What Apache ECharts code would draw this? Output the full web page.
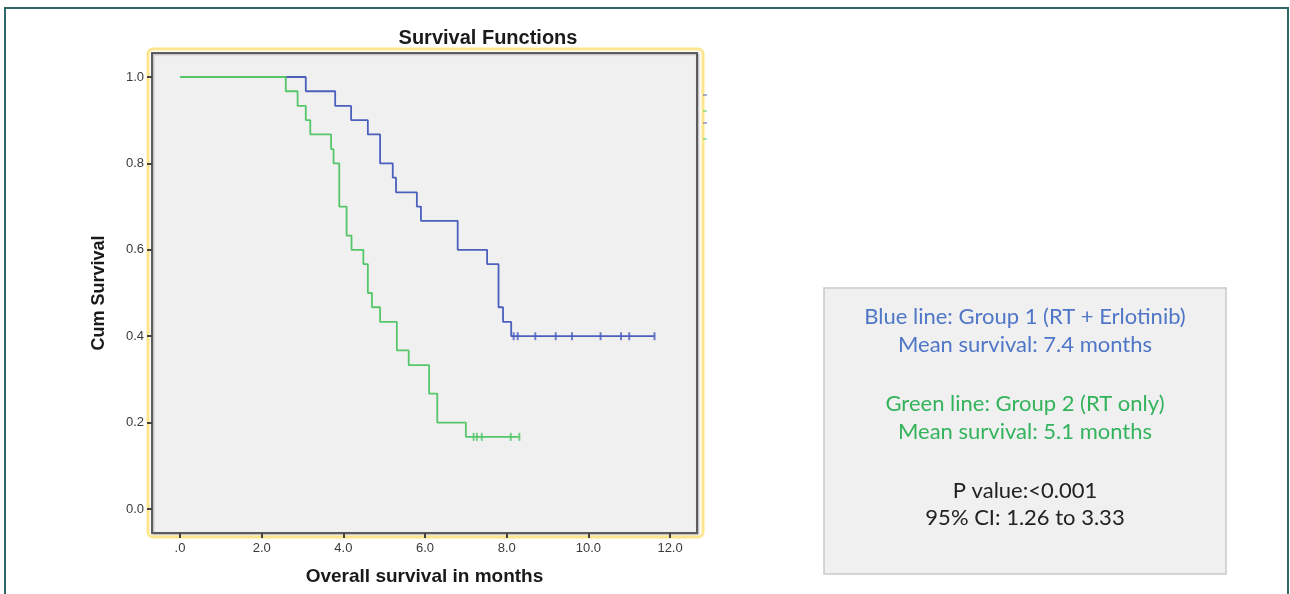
<!DOCTYPE html>
<html>
<head>
<meta charset="utf-8">
<title>Survival Functions</title>
<script src="https://cdn.jsdelivr.net/npm/echarts@6/dist/echarts.min.js"></script>
<style>
  html, body { margin: 0; padding: 0; background: #ffffff; }
  #chart { width: 1290px; height: 594px; }
</style>
</head>
<body>
<div id="chart"></div>
<script>
// Kaplan-Meier steps (time in months, cum survival)
var blueTimes = [0, 3.08, 3.8, 4.19, 4.6, 4.9, 5.21, 5.29, 5.8, 5.9, 6.8, 7.52, 7.8, 7.91, 8.11, 11.62];
var blueSurv = [1.0, 0.967, 0.933, 0.9, 0.867, 0.8, 0.767, 0.733, 0.7, 0.667, 0.6, 0.567, 0.467, 0.433, 0.4, 0.4];
var blueCensored = [8.17, 8.27, 8.7, 9.2, 9.6, 10.3, 10.8, 11.0, 11.62];
var blueCensorSurv = 0.4;

var greenTimes = [0, 2.59, 2.88, 3.08, 3.19, 3.7, 3.76, 3.9, 4.08, 4.2, 4.49, 4.6, 4.7, 4.9, 5.31, 5.6, 6.1, 6.3, 7.0, 8.31];
var greenSurv = [1.0, 0.967, 0.933, 0.9, 0.867, 0.833, 0.8, 0.7, 0.633, 0.6, 0.567, 0.5, 0.467, 0.433, 0.367, 0.333, 0.267, 0.2, 0.167, 0.167];
var greenCensored = [7.19, 7.27, 7.39, 8.1, 8.31];
var greenCensorSurv = 0.167;

var xTicks = [0, 2, 4, 6, 8, 10, 12];
var yTicks = [0, 0.2, 0.4, 0.6, 0.8, 1.0];

var noteLines = [
    { text: 'Blue line: Group 1 (RT + Erlotinib)', color: '#4f76c7', y: 317 },
    { text: 'Mean survival: 7.4 months', color: '#4f76c7', y: 345 },
    { text: 'Green line: Group 2 (RT only)', color: '#33b35c', y: 404 },
    { text: 'Mean survival: 5.1 months', color: '#33b35c', y: 432 },
    { text: 'P value:<0.001', color: '#222222', y: 491 },
    { text: '95% CI: 1.26 to 3.33', color: '#222222', y: 518 }
];

var BLUE = '#4b5fbd';
var GREEN = '#55c76a';
var AXIS_FONT = '"Liberation Sans", Arial, sans-serif';

function pairs(xs, ys) {
    var out = [];
    for (var i = 0; i < xs.length; i++) {
        out.push([xs[i], ys[i]]);
    }
    return out;
}

function censorPairs(xs, y) {
    var out = [];
    for (var i = 0; i < xs.length; i++) {
        out.push([xs[i], y]);
    }
    return out;
}

var chart = echarts.init(document.getElementById('chart'));

// frames, title, note box
var graphics = [
    // outer teal frame
    { type: 'rect', shape: { x: 5, y: 8, width: 1283, height: 600 },
      style: { fill: 'none', stroke: '#2f6767', lineWidth: 2 }, z: 0, silent: true },
    // yellow border around the plot
    { type: 'rect', shape: { x: 148, y: 49, width: 555, height: 488, r: 5 },
      style: { fill: 'none', stroke: '#fde58e', lineWidth: 3 }, z: 0, silent: true },
    // title
    { type: 'text', x: 488, y: 38, z: 10,
      style: { text: 'Survival Functions', fill: '#1a1a1a', align: 'center', verticalAlign: 'middle',
               font: 'bold 20px ' + AXIS_FONT } },
    // remnants of a tiny legend to the right of the plot
    { type: 'line', shape: { x1: 703, y1: 95, x2: 707, y2: 95 }, style: { stroke: BLUE, lineWidth: 1 } },
    { type: 'line', shape: { x1: 703, y1: 111, x2: 707, y2: 111 }, style: { stroke: GREEN, lineWidth: 1 } },
    { type: 'line', shape: { x1: 703, y1: 123, x2: 707, y2: 123 }, style: { stroke: BLUE, lineWidth: 1 } },
    { type: 'line', shape: { x1: 703, y1: 139, x2: 707, y2: 139 }, style: { stroke: GREEN, lineWidth: 1 } },
    // note box
    { type: 'rect', shape: { x: 824, y: 288, width: 402, height: 286 },
      style: { fill: '#f0f0f0', stroke: '#c9c9c9', lineWidth: 1.5 }, z: 1 }
];
for (var i = 0; i < noteLines.length; i++) {
    graphics.push({
        type: 'text', x: 1025, y: noteLines[i].y, z: 2,
        style: { text: noteLines[i].text, fill: noteLines[i].color, align: 'center', verticalAlign: 'middle',
                 font: '22px Lato, "Open Sans", sans-serif' }
    });
}

var option = {
    backgroundColor: '#ffffff',
    animation: false,
    grid: {
        left: 152, top: 53, width: 545, height: 480,
        show: true,
        backgroundColor: '#f0f0f0',
        borderColor: '#5c5c5c',
        borderWidth: 2,
        shadowColor: 'rgba(0,0,0,0.25)',
        shadowBlur: 2,
        shadowOffsetX: 1,
        shadowOffsetY: 1
    },
    xAxis: {
        type: 'value',
        min: -0.686,
        max: 12.66,
        name: 'Overall survival in months',
        nameLocation: 'middle',
        nameGap: 34,
        nameTextStyle: { fontFamily: AXIS_FONT, fontWeight: 'bold', fontSize: 19, color: '#1a1a1a' },
        axisLine: { show: false, onZero: false },
        splitLine: { show: false },
        axisTick: { show: true, inside: false, length: 5, customValues: xTicks, lineStyle: { color: '#444', width: 2 } },
        axisLabel: {
            customValues: xTicks,
            margin: 9,
            fontFamily: AXIS_FONT,
            fontSize: 13,
            color: '#3a3a3a',
            formatter: function (v) { return v === 0 ? '.0' : v.toFixed(1); }
        }
    },
    yAxis: {
        type: 'value',
        min: -0.0556,
        max: 1.0556,
        name: 'Cum Survival',
        nameLocation: 'middle',
        nameGap: 44,
        nameRotate: 90,
        nameTextStyle: { fontFamily: AXIS_FONT, fontWeight: 'bold', fontSize: 18, color: '#1a1a1a' },
        axisLine: { show: false, onZero: false },
        splitLine: { show: false },
        axisTick: { show: true, inside: false, length: 5, customValues: yTicks, lineStyle: { color: '#444', width: 2 } },
        axisLabel: {
            customValues: yTicks,
            margin: 8,
            fontFamily: AXIS_FONT,
            fontSize: 13,
            color: '#3a3a3a',
            formatter: function (v) { return v.toFixed(1); }
        }
    },
    series: [
        {
            name: 'Group 1', type: 'line', step: 'end', showSymbol: false,
            data: pairs(blueTimes, blueSurv),
            lineStyle: { color: BLUE, width: 1.8 }, z: 3
        },
        {
            name: 'Group 2', type: 'line', step: 'end', showSymbol: false,
            data: pairs(greenTimes, greenSurv),
            lineStyle: { color: GREEN, width: 1.8 }, z: 3
        },
        {
            name: 'Group 1 censored', type: 'scatter', symbol: 'rect', symbolSize: [2, 8],
            data: censorPairs(blueCensored, blueCensorSurv),
            itemStyle: { color: BLUE }, z: 4
        },
        {
            name: 'Group 2 censored', type: 'scatter', symbol: 'rect', symbolSize: [2, 8],
            data: censorPairs(greenCensored, greenCensorSurv),
            itemStyle: { color: GREEN }, z: 4
        }
    ],
    graphic: graphics
};

chart.setOption(option);
</script>
</body>
</html>
